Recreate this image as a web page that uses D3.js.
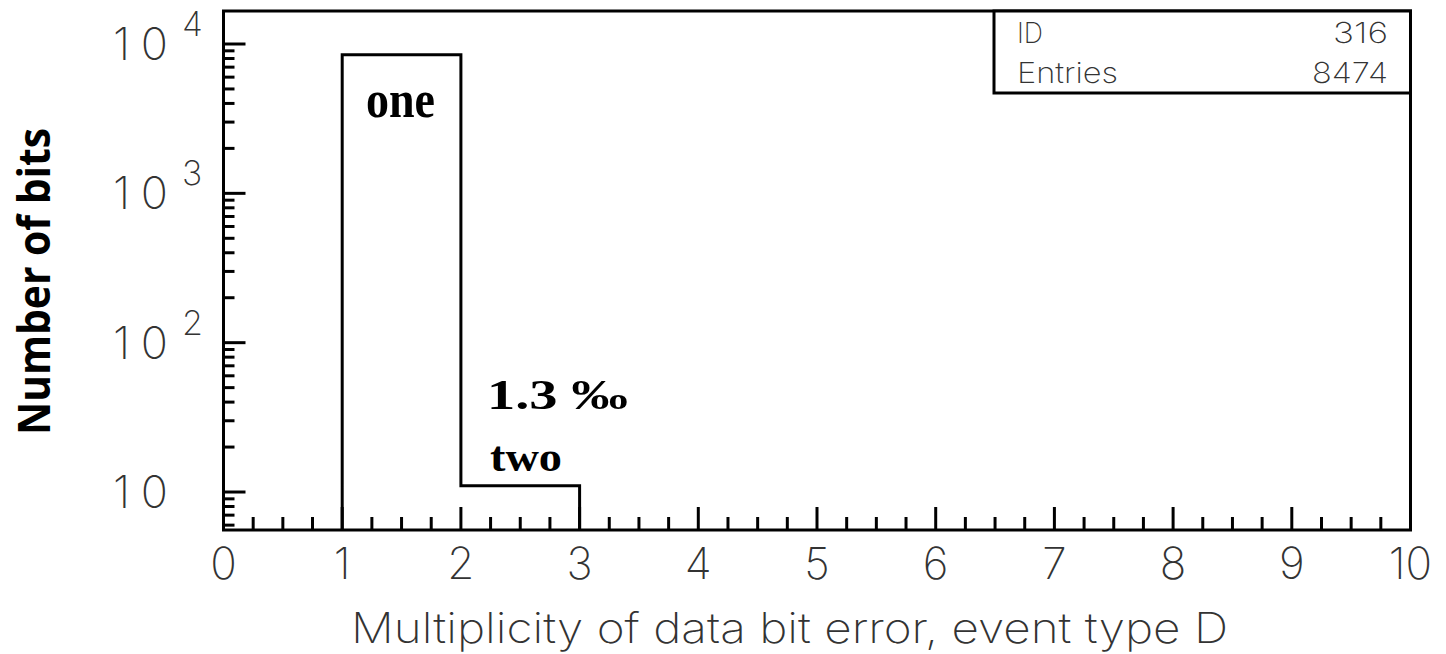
<!DOCTYPE html>
<html>
<head>
<meta charset="utf-8">
<script src="https://cdn.jsdelivr.net/npm/d3@7"></script>
<style>
  body { margin: 0; background: #fff; }
  .thin { font-family: Inter, Lato, "DejaVu Sans", sans-serif; font-weight: 200; fill: #333; }
  .note { font-family: "Liberation Serif", serif; font-weight: bold; fill: #000; }
</style>
</head>
<body>
<div id="chart"></div>
<script>
// histogram contents: bin edges 0..10, counts per bin
const binEdges = [0, 1, 2, 3, 4, 5, 6, 7, 8, 9, 10];
const binCounts = [0, 8463, 11, 0, 0, 0, 0, 0, 0, 0];
const xTicks = [0, 1, 2, 3, 4, 5, 6, 7, 8, 9, 10];
const yDecades = [10, 100, 1000, 10000];
const statLabels = ["ID", "Entries"];
const statValues = ["316", "8474"];

const W = 1446, H = 654;
const svg = d3.select("#chart").append("svg")
    .attr("width", W)
    .attr("height", H);

// frame area
const fLeft = 223.5, fRight = 1410.5, fTop = 11, fBottom = 530;

const x = d3.scaleLinear().domain([0, 10]).range([fLeft, fRight]);
const y = d3.scaleLog().domain([5.567, 16634]).range([fBottom, fTop]);

// histogram outline
const ymin = y.domain()[0];
let pts = [];
binCounts.forEach((c, i) => {
    const v = c > 0 ? c : ymin;
    pts.push([binEdges[i], v], [binEdges[i + 1], v]);
});
// only draw the non-empty part, from first filled bin to last
const line = d3.line().x(d => x(d[0])).y(d => y(d[1]));
const first = binCounts.findIndex(c => c > 0);
const last = binCounts.length - 1 - [...binCounts].reverse().findIndex(c => c > 0);
const histPts = [[binEdges[first], ymin]]
    .concat(pts.slice(first * 2, last * 2 + 2))
    .concat([[binEdges[last + 1], ymin]]);
svg.append("path")
    .attr("d", line(histPts))
    .attr("fill", "none")
    .attr("stroke", "#000")
    .attr("stroke-width", 3);

// x ticks: major at integers, minor every quarter
const xMinor = d3.range(0, 10.001, 0.25).filter(v => Math.abs(v - Math.round(v)) > 1e-6);
svg.append("g").selectAll("line")
    .data(xTicks.map(v => ({v, len: 23})).concat(xMinor.map(v => ({v, len: 13}))))
    .join("line")
    .attr("x1", d => x(d.v)).attr("x2", d => x(d.v))
    .attr("y1", fBottom).attr("y2", d => fBottom - d.len)
    .attr("stroke", "#000").attr("stroke-width", 3);

// y ticks: major at decades, minor at 2..9
const yMinor = [];
[1, 10, 100, 1000].forEach(d => d3.range(2, 10).forEach(k => {
    const v = d * k;
    if (v > ymin && v < y.domain()[1]) yMinor.push(v);
}));
svg.append("g").selectAll("line")
    .data(yDecades.map(v => ({v, len: 22})).concat(yMinor.map(v => ({v, len: 11}))))
    .join("line")
    .attr("y1", d => y(d.v)).attr("y2", d => y(d.v))
    .attr("x1", fLeft).attr("x2", d => fLeft + d.len)
    .attr("stroke", "#000").attr("stroke-width", 3);

// frame
svg.append("rect")
    .attr("x", fLeft).attr("y", fTop)
    .attr("width", fRight - fLeft).attr("height", fBottom - fTop)
    .attr("fill", "none").attr("stroke", "#000").attr("stroke-width", 3);

// x tick labels
svg.append("g").selectAll("text")
    .data(xTicks)
    .join("text")
    .attr("class", "thin")
    .attr("x", d => x(d))
    .attr("y", 579)
    .attr("text-anchor", "middle")
    .style("font-size", "44px")
    .text(d => d);

// y tick labels 10, 10^2 ...
svg.append("g").selectAll("text")
    .data(yDecades)
    .join("text")
    .attr("class", "thin")
    .attr("x", 113)
    .attr("y", d => y(d) + 16)
    .attr("textLength", 55)
    .attr("lengthAdjust", "spacing")
    .style("font-size", "45px")
    .text("10");
svg.append("g").selectAll("text")
    .data(yDecades.filter(d => d > 10))
    .join("text")
    .attr("class", "thin")
    .attr("x", 182)
    .attr("y", d => y(d) - 8)
    .style("font-size", "34px")
    .text(d => Math.round(Math.log10(d)));

// axis titles
svg.append("text")
    .attr("class", "thin")
    .attr("x", 351).attr("y", 643)
    .attr("textLength", 877)
    .attr("lengthAdjust", "spacingAndGlyphs")
    .style("font-size", "42px")
    .text("Multiplicity of data bit error, event type D");

svg.append("text")
    .attr("transform", "translate(50," + 435 + ") rotate(-90)")
    .attr("textLength", 307)
    .attr("lengthAdjust", "spacingAndGlyphs")
    .style("font-family", "'Open Sans', sans-serif")
    .style("font-weight", "bold")
    .style("font-size", "44px")
    .text("Number of bits");

// stats box
const bx = 994;
const labelW = [26, 101], valueW = [55, 76];
svg.append("rect")
    .attr("x", bx).attr("y", fTop)
    .attr("width", fRight - bx).attr("height", 93 - fTop)
    .attr("fill", "#fff").attr("stroke", "#000").attr("stroke-width", 3);
statLabels.forEach((s, i) => {
    svg.append("text").attr("class", "thin")
        .attr("x", 1017).attr("y", 43 + i * 40)
        .attr("textLength", labelW[i]).attr("lengthAdjust", "spacingAndGlyphs")
        .style("font-size", "29px").text(s);
    svg.append("text").attr("class", "thin")
        .attr("x", 1388 - valueW[i]).attr("y", 43 + i * 40)
        .attr("textLength", valueW[i]).attr("lengthAdjust", "spacingAndGlyphs")
        .style("font-size", "29px").text(statValues[i]);
});

// annotations
svg.append("text").attr("class", "note")
    .attr("x", 366).attr("y", 117)
    .attr("textLength", 69).attr("lengthAdjust", "spacingAndGlyphs")
    .style("font-size", "52px").text("one");
svg.append("text").attr("class", "note")
    .attr("x", 487).attr("y", 409)
    .attr("textLength", 141).attr("lengthAdjust", "spacingAndGlyphs")
    .style("font-size", "43px").text("1.3 \u2030");
svg.append("text").attr("class", "note")
    .attr("x", 490).attr("y", 471)
    .attr("textLength", 72).attr("lengthAdjust", "spacingAndGlyphs")
    .style("font-size", "42px").text("two");
</script>
</body>
</html>
